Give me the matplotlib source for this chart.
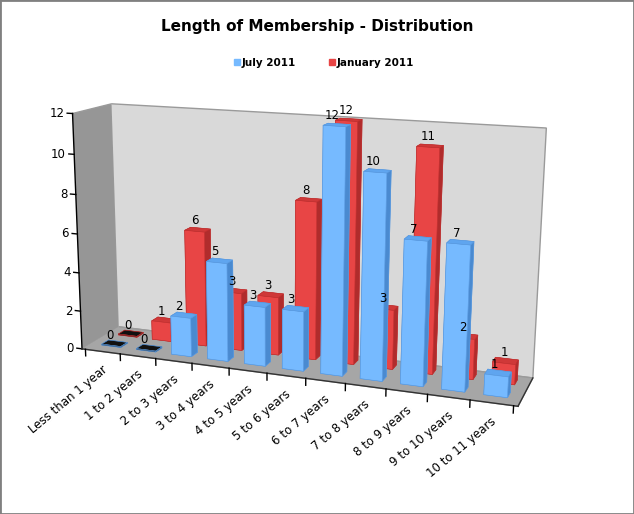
import matplotlib.pyplot as plt
from matplotlib.lines import Line2D
from matplotlib.patches import Rectangle
from mpl_toolkits.mplot3d import proj3d

categories = ['Less than 1 year', '1 to 2 years', '2 to 3 years', '3 to 4 years',
              '4 to 5 years', '5 to 6 years', '6 to 7 years', '7 to 8 years',
              '8 to 9 years', '9 to 10 years', '10 to 11 years']
july_2011 = [0, 0, 2, 5, 3, 3, 12, 10, 7, 7, 1]
january_2011 = [0, 1, 6, 3, 3, 8, 12, 3, 11, 2, 1]
series_names = ['July 2011', 'January 2011']
z_ticks = [0, 2, 4, 6, 8, 10, 12]

# face colours: base, top, front, back, left, right
blue_faces = ['#4a8ad0', '#5fa5ef', '#76baff', '#4a8ad0', '#4a8ad0', '#4a8ad0']
red_faces = ['#b02c2c', '#cf3838', '#e84545', '#b02c2c', '#b02c2c', '#b02c2c']
zero_faces = ['#111111'] * 6

fig = plt.figure(figsize=(6.34, 5.14), dpi=100)
ax = fig.add_axes([-0.035, 0.072, 1.0, 0.88], projection='3d', computed_zorder=False)
ax.view_init(elev=14, azim=-70, roll=-0.3)
ax.set_proj_type('persp', focal_length=0.5)
ax.set_box_aspect((466, 82, 252), zoom=1.14)

x0, x1 = -0.6, 10.6
y0, y1 = -0.5, 1.7
ax.set_xlim(x0, x1)
ax.set_ylim(y0, y1)
ax.set_zlim(0, 12)

ax.grid(False)
ax.xaxis.set_pane_color('#969696')
ax.yaxis.set_pane_color('#d9d9d9')
ax.zaxis.set_pane_color('#a6a6a6')
for axis in (ax.xaxis, ax.yaxis, ax.zaxis):
    axis.line.set_color((0, 0, 0, 0))
    axis.set_ticks([])
    axis.pane.set_edgecolor('#9a9a9a')


def to2d(x, y, z):
    px, py, _ = proj3d.proj_transform(x, y, z, ax.get_proj())
    return px, py


bw, bd = 0.55, 0.4


def draw_row(values, ypos, faces, edge, z):
    for i, v in enumerate(values):
        fc = zero_faces if v == 0 else faces
        h = v if v > 0 else 0.05
        ax.bar3d(i - bw / 2, ypos, 0, bw, bd, h, color=fc, shade=False,
                 edgecolor=edge, linewidth=0.4, zorder=z)


draw_row(january_2011, 1.0, red_faces, '#c03030', 2)
draw_row(july_2011, 0.0, blue_faces, '#5a9ae0', 3)

for i, v in enumerate(january_2011):
    ax.annotate(str(v), to2d(i, 1.0, v), xytext=(0, 3), textcoords='offset points',
                ha='center', va='bottom', fontsize=8.5, zorder=5, annotation_clip=False)
for i, v in enumerate(july_2011):
    ax.annotate(str(v), to2d(i - 0.05, 0.0, v), xytext=(0, 3), textcoords='offset points',
                ha='center', va='bottom', fontsize=8.5, zorder=5, annotation_clip=False)

# vertical axis
ax.plot([x0, x0], [y0, y0], [0, 12], color='black', lw=1, zorder=4, clip_on=False)
for z in z_ticks:
    ax.plot([x0, x0 - 0.15], [y0, y0], [z, z], color='black', lw=1, zorder=4,
            clip_on=False)
    ax.annotate(str(z), to2d(x0, y0, z), xytext=(-6, 0), textcoords='offset points',
                ha='right', va='center', fontsize=8.5, annotation_clip=False)

# category axis
ax.plot([x0, x1], [y0, y0], [0, 0], color='#333333', lw=1, zorder=4, clip_on=False)
ax.plot([x1, x1], [y0, y1], [0, 0], color='#333333', lw=1, zorder=4, clip_on=False)
for k in range(len(categories) + 1):
    b = k - 0.5
    ax.plot([b, b], [y0, y0], [0, -0.35], color='black', lw=1, zorder=4, clip_on=False)
for i, lab in enumerate(categories):
    ax.annotate(lab, to2d(i, y0, 0), xytext=(2, -12), textcoords='offset points',
                ha='right', va='center', rotation=40, rotation_mode='anchor',
                fontsize=8.5, annotation_clip=False)

fig.text(0.5, 1 - 27 / 514, 'Length of Membership - Distribution', ha='center',
         va='center', fontsize=11, fontweight='bold')
handles = [Line2D([], [], marker='s', ls='', color='#76baff', markersize=5),
           Line2D([], [], marker='s', ls='', color='#e84545', markersize=5)]
fig.legend(handles, series_names, loc='center', bbox_to_anchor=(0.51, 1 - 63 / 514),
           ncol=2, frameon=False, prop={'size': 7.5, 'weight': 'bold'},
           handletextpad=0.1, columnspacing=3.0, handlelength=0.8)

fig.patches.append(Rectangle((0, 0), 1, 1, transform=fig.transFigure, fill=False,
                             edgecolor='#808080', lw=2))
fig.savefig('out.png', dpi=100)
